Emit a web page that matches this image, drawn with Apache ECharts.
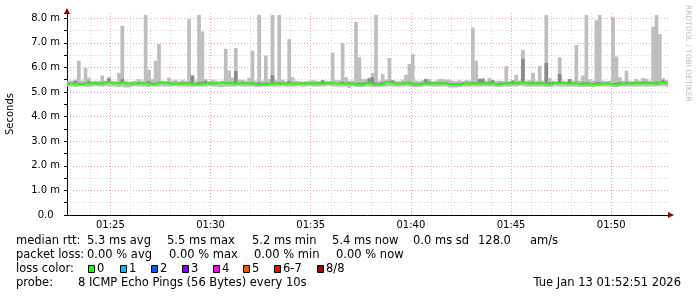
<!DOCTYPE html>
<html><head><meta charset="utf-8">
<script src="https://cdn.jsdelivr.net/npm/echarts@6/dist/echarts.min.js"></script>
<style>html,body{margin:0;padding:0;background:#fff}#c{width:697px;height:297px}</style>
</head><body><div id="c"></div>
<script>
// ---- data ----
const startHMS = [1, 22, 51];   // first column time
const stepSec = 10;             // one column = 10 s
const xTickLabels = ['01:25','01:30','01:35','01:40','01:45','01:50'];
const yTickLabels = ['0.0','1.0 m','2.0 m','3.0 m','4.0 m','5.0 m','6.0 m','7.0 m','8.0 m'];

// median rtt (ms) per 10 s column
const med = [
5.33,5.33,5.33,5.30,5.30,5.34,5.34,5.34,5.34,5.34,
5.34,5.39,5.39,5.35,5.35,5.35,5.38,5.33,5.33,5.33,
5.33,5.35,5.35,5.35,5.31,5.31,5.31,5.38,5.38,5.38,
5.33,5.33,5.33,5.33,5.33,5.33,5.33,5.33,5.30,5.30,
5.34,5.34,5.34,5.34,5.34,5.38,5.38,5.34,5.34,5.34,
5.34,5.34,5.34,5.34,5.34,5.34,5.30,5.30,5.30,5.30,
5.33,5.33,5.33,5.33,5.33,5.33,5.33,5.33,5.33,5.33,
5.34,5.34,5.34,5.34,5.34,5.34,5.34,5.36,5.36,5.36,
5.33,5.33,5.33,5.33,5.33,5.33,5.30,5.30,5.30,5.35,
5.35,5.30,5.30,5.30,5.30,5.40,5.40,5.33,5.33,5.33,
5.33,5.35,5.35,5.30,5.30,5.30,5.34,5.34,5.34,5.34,
5.34,5.34,5.34,5.34,5.29,5.29,5.29,5.29,5.33,5.33,
5.33,5.33,5.34,5.34,5.34,5.34,5.34,5.34,5.30,5.30,
5.34,5.34,5.34,5.34,5.34,5.38,5.38,5.34,5.34,5.34,
5.34,5.34,5.34,5.30,5.30,5.36,5.36,5.36,5.36,5.34,
5.34,5.34,5.34,5.31,5.31,5.31,5.31,5.31,5.31,5.33,
5.33,5.33,5.33,5.29,5.29,5.33,5.33,5.33,5.33,5.35,
5.35,5.35,5.35,5.35,5.35,5.33,5.33,5.38,5.38,5.38];

// lowest ping per column
const lo = [
5.22,5.22,5.20,5.22,5.24,5.22,5.20,5.22,5.24,5.22,
5.22,5.24,5.22,5.22,5.22,5.20,5.22,5.18,5.18,5.22,
5.24,5.22,5.22,5.22,5.20,5.22,5.22,5.22,5.24,5.22,
5.22,5.22,5.24,5.22,5.22,5.22,5.22,5.20,5.22,5.22,
5.22,5.22,5.24,5.22,5.22,5.20,5.20,5.22,5.22,5.22,
5.22,5.24,5.22,5.22,5.22,5.22,5.20,5.20,5.22,5.22,
5.22,5.22,5.22,5.22,5.24,5.22,5.22,5.22,5.22,5.24,
5.22,5.22,5.24,5.22,5.22,5.22,5.22,5.24,5.24,5.22,
5.22,5.22,5.22,5.22,5.16,5.22,5.20,5.20,5.20,5.22,
5.22,5.20,5.20,5.20,5.22,5.22,5.24,5.22,5.22,5.22,
5.22,5.24,5.22,5.20,5.20,5.20,5.22,5.24,5.22,5.22,
5.22,5.22,5.22,5.22,5.18,5.18,5.18,5.20,5.22,5.22,
5.22,5.22,5.22,5.22,5.22,5.22,5.22,5.22,5.20,5.20,
5.22,5.22,5.22,5.22,5.22,5.24,5.24,5.22,5.22,5.22,
5.22,5.22,5.22,5.20,5.20,5.22,5.24,5.22,5.22,5.22,
5.22,5.22,5.22,5.20,5.20,5.20,5.20,5.20,5.22,5.22,
5.22,5.22,5.22,5.20,5.20,5.22,5.22,5.22,5.22,5.22,
5.22,5.22,5.22,5.22,5.22,5.22,5.22,5.24,5.24,5.22];

// highest ping per column
const hi = [
5.46,5.46,5.50,6.27,5.46,5.98,5.58,5.44,5.46,5.44,
5.67,5.46,5.60,5.46,5.44,5.78,7.69,5.46,5.42,5.44,
5.46,5.52,5.46,8.13,5.90,5.52,6.27,6.95,5.46,5.44,
5.58,5.46,5.50,5.44,5.50,5.46,7.96,5.67,5.46,8.13,
7.46,5.52,5.44,5.50,5.46,5.42,5.46,6.75,5.87,5.58,
6.79,5.50,5.50,5.46,5.58,6.68,5.46,8.13,5.46,6.48,
5.52,8.13,5.50,8.13,5.50,5.44,7.15,5.60,5.46,5.44,
5.42,5.44,5.46,5.48,5.46,5.44,5.48,5.46,5.44,6.59,
5.48,5.48,6.99,5.60,5.46,5.46,7.85,6.41,5.52,5.52,
5.58,5.78,8.13,5.46,5.73,5.50,6.38,5.48,5.44,5.44,
5.50,5.70,6.14,6.55,5.46,5.44,5.48,5.54,5.52,5.44,
5.46,5.52,5.52,5.50,5.50,5.46,5.44,5.48,5.44,5.48,
5.46,7.62,6.27,5.55,5.56,5.46,5.57,5.48,5.44,5.46,
5.44,6.05,5.44,5.46,5.70,5.46,6.71,5.46,5.48,5.78,
5.46,6.06,5.46,8.13,5.56,5.46,5.44,6.41,5.46,5.44,
5.53,5.46,6.91,5.46,5.67,8.13,5.52,5.46,7.92,8.13,
5.46,5.44,5.46,8.05,6.44,5.60,5.46,5.87,5.46,5.44,
5.53,5.46,5.57,5.53,5.46,7.65,8.13,7.35,5.57,5.48];

// top of the darker inner smoke per column
const dk = [
5.38,5.38,5.45,5.38,5.36,5.38,5.45,5.38,5.38,5.38,
5.40,5.42,5.55,5.38,5.38,5.40,5.52,5.38,5.36,5.38,
5.38,5.40,5.38,5.40,5.45,5.38,5.38,5.42,5.40,5.40,
5.40,5.38,5.38,5.38,5.40,5.38,5.40,5.67,5.36,5.40,
5.42,5.45,5.38,5.38,5.38,5.40,5.42,5.40,5.40,5.38,
5.85,5.38,5.40,5.38,5.38,5.40,5.36,5.40,5.36,5.38,
5.38,5.68,5.38,5.40,5.38,5.38,5.45,5.38,5.38,5.38,
5.38,5.38,5.38,5.38,5.38,5.38,5.47,5.40,5.40,5.42,
5.38,5.38,5.42,5.38,5.40,5.38,5.38,5.38,5.38,5.40,
5.55,5.60,5.38,5.36,5.40,5.42,5.44,5.47,5.38,5.38,
5.38,5.40,5.42,5.38,5.36,5.36,5.38,5.52,5.42,5.38,
5.38,5.40,5.40,5.40,5.36,5.36,5.36,5.36,5.38,5.38,
5.38,5.40,5.40,5.52,5.52,5.38,5.42,5.47,5.36,5.38,
5.38,5.40,5.38,5.47,5.40,5.42,6.34,5.38,5.40,5.42,
5.38,5.40,5.38,6.18,5.40,5.40,5.40,5.73,5.40,5.38,
5.52,5.38,5.42,5.36,5.40,5.40,5.38,5.36,5.40,5.40,
5.38,5.38,5.38,5.36,5.38,5.40,5.38,5.40,5.38,5.40,
5.42,5.40,5.42,5.42,5.40,5.40,5.42,5.42,5.48,5.42];

const lossColors = ['#26ff00','#00b8ff','#0059ff','#7e00ff','#ff00ff','#ff5500','#ff0000','#a10000'];
const lossLabels = ['0','1','2','3','4','5','6-7','8/8'];

// ---- build ----
const nCols = med.length;
const pad = n => (n < 10 ? '0' : '') + n;
const categories = [];
const startSec = startHMS[0]*3600 + startHMS[1]*60 + startHMS[2];
for (let i = 0; i <= nCols; i++) {
  const t = startSec + i*stepSec;
  categories.push(pad(Math.floor(t/3600)) + ':' + pad(Math.floor(t/60)%60) + ':' + pad(t%60));
}
const medLine = med.concat([med[nCols-1]]);
const smokeData = med.map((m, k) => [k, lo[k], hi[k], dk[k], m]);

const MINOR = '#d2d2d2', MAJOR = '#eaa0a0';
const xGridColors = [MINOR, MINOR, MAJOR, MINOR, MINOR];
const yGridColors = [];
for (let i = 0; i < 17; i++) yGridColors.push(i % 2 ? MINOR : MAJOR);
yGridColors.push('rgba(0,0,0,0)');

const FF = '"DejaVu Sans", sans-serif';
const isMinute = v => v.slice(6) === '01';

const chart = echarts.init(document.getElementById('c'), null, {renderer: 'canvas'});

const lf = '11.5px ' + FF;
const T = (x, y, text, align) => ({type: 'text', x: x, y: y, silent: true,
  style: {text: text, font: lf, fill: '#000', align: align || 'left', verticalAlign: 'middle'}});
const graphics = [
  T(16, 241, 'median rtt:'), T(87, 241, '5.3 ms avg'), T(167, 241, '5.5 ms max'),
  T(252, 241, '5.2 ms min'), T(332, 241, '5.4 ms now'), T(413, 241, '0.0 ms sd'),
  T(478, 241, '128.0'), T(530, 241, 'am/s'),
  T(16, 255, 'packet loss:'), T(87, 255, '0.00 % avg'), T(169, 255, '0.00 % max'),
  T(254, 255, '0.00 % min'), T(336, 255, '0.00 % now'),
  T(16, 269, 'loss color:'),
  T(16, 283, 'probe:'), T(78, 283, '8 ICMP Echo Pings (56 Bytes) every 10s'),
  T(681, 283, 'Tue Jan 13 01:52:51 2026', 'right'),
  {type: 'text', x: 692, y: 5, rotation: -Math.PI/2, silent: true,
   style: {text: 'RRDTOOL / TOBI OETIKER', font: '7.5px ' + FF, fill: '#bdbdbd', align: 'left', verticalAlign: 'top'}}
];
const boxX = [88, 120, 151, 182, 213, 243, 274, 317];
lossColors.forEach((c, i) => {
  graphics.push({type: 'rect', silent: true, shape: {x: boxX[i] + 0.5, y: 265.5, width: 6, height: 7},
    style: {fill: c, stroke: '#000', lineWidth: 1}});
  graphics.push(T(boxX[i] + 9, 269, lossLabels[i]));
});

chart.setOption({
  animation: false,
  backgroundColor: '#fff',
  grid: {left: 67, right: 29, top: 13, bottom: 82, containLabel: false, outerBoundsMode: 'none'},
  xAxis: [{
    type: 'category', data: categories, boundaryGap: false, position: 'bottom',
    axisLine: {show: true, onZero: false, lineStyle: {color: '#000', width: 1}},
    axisTick: {show: false},
    axisLabel: {interval: (i, v) => isMinute(v) && xTickLabels.indexOf(v.slice(0,5)) >= 0,
      formatter: v => v.slice(0,5), color: '#000', fontSize: 10, fontFamily: FF, margin: 5},
    splitLine: {show: true, interval: (i, v) => isMinute(v),
      lineStyle: {color: xGridColors, type: [1, 2], width: 1}}
  }, {
    type: 'category', data: categories, boundaryGap: false, position: 'bottom',
    axisLine: {show: true, onZero: false, symbol: ['none', 'triangle'], symbolSize: [6, 6], symbolOffset: [0, 3],
      lineStyle: {color: '#8b0000', width: 0}},
    axisTick: {show: false}, axisLabel: {show: false}, splitLine: {show: false}
  }],
  yAxis: [{
    type: 'value', min: 0, max: 8.21, interval: 0.5, position: 'left',
    axisLine: {show: true, lineStyle: {color: '#000', width: 1}},
    axisTick: {show: true, length: 3, lineStyle: {color: '#000'}},
    axisLabel: {color: '#000', fontSize: 10, fontFamily: FF, margin: 7,
      formatter: v => { const k = Math.round(v*2); if (Math.abs(v*2 - k) > 1e-6 || k % 2) return '';
        return yTickLabels[k/2] + (k === 0 ? '  ' : ''); }},
    splitLine: {show: true, lineStyle: {color: yGridColors, type: [1, 2], width: 1}},
    name: 'Seconds', nameLocation: 'middle', nameRotate: 90, nameGap: 52,
    nameTextStyle: {color: '#000', fontSize: 10, fontFamily: FF}
  }, {
    type: 'value', min: 0, max: 8.21, position: 'left',
    axisLine: {show: true, onZero: false, symbol: ['none', 'triangle'], symbolSize: [6, 6], symbolOffset: [0, 2],
      lineStyle: {color: '#8b0000', width: 0}},
    axisTick: {show: false}, axisLabel: {show: false}, splitLine: {show: false}
  }],
  series: [{
    type: 'custom', xAxisIndex: 0, yAxisIndex: 0, clip: true, silent: true,
    data: smokeData, encode: {x: 0, y: [1, 2]},
    renderItem: (params, api) => {
      const k = api.value(0);
      const a = api.coord([k, api.value(2)]);
      const b = api.coord([k + 1, api.value(1)]);
      const c = api.coord([k, api.value(3)]);
      const d = api.coord([k + 1, api.value(4)]);
      const w = b[0] - a[0] + 0.35;
      const children = [{type: 'rect', shape: {x: a[0], y: a[1], width: w, height: b[1] - a[1]},
        style: {fill: '#bebebe'}}];
      if (c[1] < d[1]) children.push({type: 'rect', shape: {x: c[0], y: c[1], width: w, height: d[1] - c[1]},
        style: {fill: '#8a8a8a'}});
      return {type: 'group', children: children};
    }
  }, {
    type: 'line', xAxisIndex: 0, yAxisIndex: 0, data: medLine, step: 'end', symbol: 'none',
    silent: true, z: 3, lineStyle: {color: '#26ff00', width: 2}
  }],
  graphic: graphics
});
</script></body></html>
